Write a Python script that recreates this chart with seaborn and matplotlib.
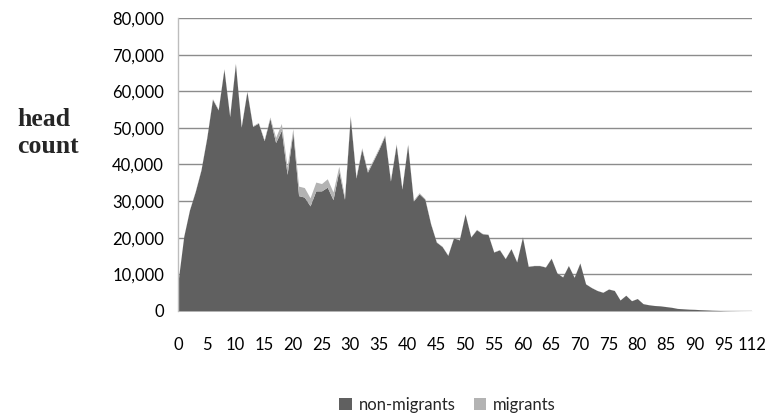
import matplotlib
matplotlib.use("Agg")
import matplotlib.pyplot as plt
from matplotlib.patches import Patch
from matplotlib.ticker import FuncFormatter
import seaborn as sns

# ages on the category axis (last category is 112)
ages = list(range(100)) + [112]

non_migrants = [
    8000, 20400, 27600, 32600, 38500, 47200, 57800, 54900, 66000, 53100,
    67500, 50200, 59900, 50400, 51300, 46500, 52600, 46000, 49300, 37300,
    48800, 31500, 31100, 28700, 32800, 32800, 33800, 30400, 38200, 30500,
    53000, 36300, 44200, 37900, 41000, 44200, 47800, 35500, 45400, 33300,
    45400, 30000, 32000, 30500, 23800, 18800, 17600, 15200, 20000, 19400,
    26500, 20200, 22200, 21100, 20900, 16100, 16700, 14300, 17000, 13400,
    20200, 12200, 12400, 12400, 12000, 14400, 10400, 9300, 12400, 9200,
    13100, 7400, 6400, 5600, 5100, 6000, 5600, 3000, 4300, 2800,
    3400, 2000, 1700, 1500, 1400, 1200, 1000, 700, 600, 500,
    450, 350, 280, 200, 150, 100, 70, 50, 30, 20,
    10,
]

migrants = [
    100, 100, 100, 150, 150, 200, 200, 200, 200, 200,
    200, 200, 200, 200, 200, 300, 400, 1400, 1900, 2000,
    1000, 2600, 2600, 2200, 2400, 2000, 2300, 2100, 1300, 800,
    400, 400, 400, 500, 400, 400, 300, 300, 300, 300,
    200, 300, 300, 200, 150, 100, 100, 100, 100, 100,
    100, 100, 100, 100, 100, 80, 80, 80, 80, 80,
    80, 60, 60, 60, 60, 60, 50, 50, 50, 50,
    50, 40, 40, 30, 30, 30, 30, 20, 20, 20,
    20, 10, 10, 10, 10, 10, 10, 5, 5, 5,
    5, 5, 5, 0, 0, 0, 0, 0, 0, 0,
    0,
]

series_names = ["non-migrants", "migrants"]
colors = ["#606060", "#b3b3b3"]

sns.set_theme(style="whitegrid")
plt.rcParams["font.family"] = ["Lato", "DejaVu Sans"]

fig = plt.figure(figsize=(7.69, 4.19), dpi=100)
ax = fig.add_axes([0.2315, 0.2578, 0.7465, 0.6992])
ax.set_facecolor("white")

x = list(range(len(ages)))
ax.stackplot(x, non_migrants, migrants, colors=colors, linewidth=0)

ax.set_xlim(0, len(ages) - 1)
ax.set_ylim(0, 80000)
ax.set_yticks(range(0, 80001, 10000))
ax.yaxis.set_major_formatter(FuncFormatter(lambda v, p: f"{int(v):,}"))
ax.set_xticks(x[::5])
ax.set_xticklabels([str(a) for a in ages[::5]])

ax.grid(axis="y", color="#8c8c8c", linewidth=1)
ax.grid(axis="x", visible=False)
ax.set_axisbelow(True)
for side in ["top", "right", "bottom"]:
    ax.spines[side].set_visible(False)
ax.spines["left"].set_color("#bdbdbd")
ax.spines["left"].set_linewidth(1)

ax.tick_params(axis="y", length=0, pad=10, labelsize=12, colors="black")
ax.tick_params(axis="x", length=0, pad=19, labelsize=12, colors="black")

fig.text(0.022, 0.683, "head\ncount", family=["Liberation Serif", "DejaVu Serif"],
         fontweight="bold", fontsize=18.5, ha="left", va="center", linespacing=1.25)

handles = [Patch(facecolor=c, edgecolor="none") for c in colors]
fig.legend(handles, series_names, loc="center", bbox_to_anchor=(0.582, 0.033),
           ncol=2, frameon=False, fontsize=12, handlelength=0.75, handleheight=0.75,
           handletextpad=0.4, columnspacing=1.1)

fig.savefig("out.png", dpi=100)
